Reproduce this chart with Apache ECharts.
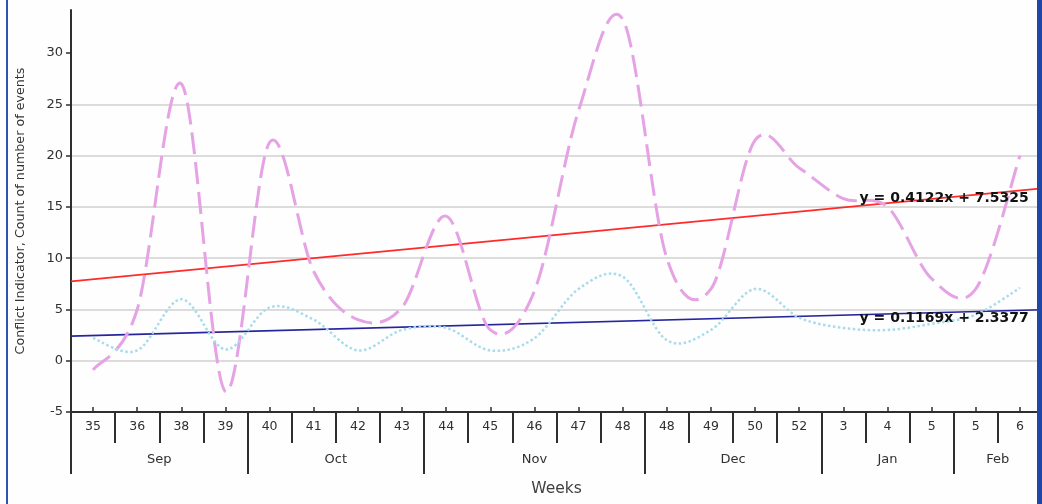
<!DOCTYPE html>
<html>
<head>
<meta charset="utf-8">
<script src="https://cdn.jsdelivr.net/npm/echarts@6/dist/echarts.min.js"></script>
<style>
  html, body { margin: 0; padding: 0; background: #ffffff; }
  #chart { width: 1042px; height: 504px; }
</style>
</head>
<body>
<div id="chart"></div>
<script>
// Week numbers along the bottom, grouped by month
const weeks = ['35', '36', '38', '39', '40', '41', '42', '43', '44', '45', '46', '47', '48',
               '48', '49', '50', '52', '3', '4', '5', '5', '6'];
const months = ['Sep', 'Oct', 'Nov', 'Dec', 'Jan', 'Feb'];
const monthSpans = [4, 4, 5, 4, 3, 2];

// Weekly values
const conflictIndicator = [-0.9, 5, 27, -3, 21.3, 8.7, 4, 5.2, 14.1, 3, 6.8,
                           24.4, 33.3, 10, 7, 21.5, 18.8, 15.8, 15, 8, 7, 20];
const eventCount = [2.2, 1, 6, 1.1, 5.2, 4, 1, 3, 3.2, 1, 2.2,
                    7, 8.2, 2, 3, 7, 4.2, 3.2, 3, 3.6, 4.5, 7.1];

// Linear trend lines (x = week position, 1-based)
const trendConflict = { slope: 0.4122, intercept: 7.5325 };
const trendCount = { slope: 0.1169, intercept: 2.3377 };

const yTicks = [-5, 0, 5, 10, 15, 20, 25, 30];

// Month group boundaries and centres in week-slot units
const monthEdges = [0];
monthSpans.forEach(s => monthEdges.push(monthEdges[monthEdges.length - 1] + s));
const monthCentres = monthSpans.map((s, i) => monthEdges[i] + s / 2);
const slotCount = weeks.length;

function trendLine(t) {
  // slot coordinate u spans 0..slotCount; week position = u + 0.5
  return [0, slotCount].map(u => [u, t.slope * (u + 0.5) + t.intercept]);
}
function eqText(t) {
  return 'y = ' + t.slope.toFixed(4) + 'x + ' + t.intercept.toFixed(4);
}

// Smooth curve through the points (cubic Bezier, Catmull-Rom tangents)
function smoothPath(pts) {
  let d = 'M' + pts[0][0] + ',' + pts[0][1];
  for (let i = 0; i < pts.length - 1; i++) {
    const p0 = pts[Math.max(i - 1, 0)];
    const p1 = pts[i];
    const p2 = pts[i + 1];
    const p3 = pts[Math.min(i + 2, pts.length - 1)];
    const c1x = p1[0] + (p2[0] - p0[0]) / 6, c1y = p1[1] + (p2[1] - p0[1]) / 6;
    const c2x = p2[0] - (p3[0] - p1[0]) / 6, c2y = p2[1] - (p3[1] - p1[1]) / 6;
    d += ' C' + c1x + ',' + c1y + ' ' + c2x + ',' + c2y + ' ' + p2[0] + ',' + p2[1];
  }
  return d;
}

function smoothSeries(name, values, lineStyle) {
  return {
    name: name,
    type: 'custom',
    xAxisIndex: 0,
    yAxisIndex: 0,
    data: values.map((v, i) => [i, v]),
    encode: { x: 0, y: 1 },
    z: 3,
    renderItem: function (params, api) {
      if (params.dataIndex !== 0) return null;
      const pts = values.map((v, i) => api.coord([i, v]));
      return {
        type: 'path',
        shape: { pathData: smoothPath(pts) },
        style: Object.assign({ fill: 'none' }, lineStyle)
      };
    }
  };
}

const FONT = 'DejaVu Sans';
const AXIS_COLOR = '#2e2e2e';

const chart = echarts.init(document.getElementById('chart'), null, { renderer: 'canvas' });

chart.setOption({
  animation: false,
  backgroundColor: '#fefefe',
  grid: { left: 71, right: -4, top: 10, bottom: 92, containLabel: false },
  xAxis: [
    {
      type: 'category',
      data: weeks,
      boundaryGap: true,
      position: 'bottom',
      axisLine: { show: true, onZero: false, lineStyle: { color: AXIS_COLOR, width: 2 } },
      axisTick: { show: true, inside: true, alignWithLabel: true, length: 5,
                  lineStyle: { color: AXIS_COLOR, width: 1.5 } },
      axisLabel: { show: true, margin: 8, fontFamily: FONT, fontSize: 12.5, color: '#303030', interval: 0 },
      splitLine: { show: false }
    },
    {
      type: 'category',
      data: weeks,
      boundaryGap: true,
      position: 'bottom',
      axisLine: { show: false, onZero: false },
      axisTick: { show: true, inside: false, length: 31, interval: 0,
                  lineStyle: { color: AXIS_COLOR, width: 2 } },
      axisLabel: { show: false },
      splitLine: { show: false }
    },
    {
      type: 'value',
      min: 0,
      max: slotCount,
      position: 'bottom',
      axisLine: { show: false, onZero: false },
      axisTick: { show: true, length: 62, customValues: monthEdges,
                  lineStyle: { color: AXIS_COLOR, width: 2 } },
      axisLabel: {
        show: true, margin: 41, customValues: monthCentres,
        fontFamily: FONT, fontSize: 13, color: '#303030',
        formatter: v => months[monthCentres.indexOf(v)] || ''
      },
      splitLine: { show: false },
      name: 'Weeks',
      nameLocation: 'middle',
      nameGap: 69,
      nameTextStyle: { fontFamily: FONT, fontSize: 15.5, color: '#404040' }
    }
  ],
  yAxis: {
    type: 'value',
    min: -5,
    max: 34.2,
    interval: 5,
    axisLine: { show: true, onZero: false, lineStyle: { color: AXIS_COLOR, width: 2 } },
    axisTick: { show: true, length: 5, customValues: yTicks,
                lineStyle: { color: AXIS_COLOR, width: 1.5 } },
    axisLabel: { margin: 8, fontFamily: FONT, fontSize: 13, color: '#303030',
                 customValues: yTicks },
    splitLine: { show: true, showMaxLine: false, lineStyle: { color: '#dcdcdc', width: 2 } },
    name: 'Conflict Indicator, Count of number of events',
    nameLocation: 'middle',
    nameGap: 44,
    nameTextStyle: { fontFamily: FONT, fontSize: 12.7, color: '#333333' }
  },
  series: [
    {
      name: 'Trend conflict',
      type: 'line',
      xAxisIndex: 2,
      data: trendLine(trendConflict),
      symbol: 'none',
      lineStyle: { color: '#ff2a2a', width: 1.6 },
      z: 2
    },
    {
      name: 'Trend count',
      type: 'line',
      xAxisIndex: 2,
      data: trendLine(trendCount),
      symbol: 'none',
      lineStyle: { color: '#25259e', width: 1.6 },
      z: 2
    },
    smoothSeries('Conflict Indicator', conflictIndicator,
                 { stroke: '#e5a2e5', lineWidth: 3, lineDash: [22, 8] }),
    smoothSeries('Count of number of events', eventCount,
                 { stroke: '#a8dcec', lineWidth: 2.5, lineDash: [2.5, 2.5] })
  ]
});

// Equation labels sit just under each trend line, near the right edge
const labelSlot = 21.7;
const eqLabels = [trendConflict, trendCount].map(t => {
  const p = chart.convertToPixel({ xAxisIndex: 2, yAxisIndex: 0 },
                                 [labelSlot, t.slope * (labelSlot + 0.5) + t.intercept]);
  return {
    type: 'text',
    x: p[0],
    y: p[1] + 8.5,
    z: 10,
    style: {
      text: eqText(t),
      fontFamily: FONT,
      fontWeight: 'bold',
      fontSize: 14,
      fill: '#111111',
      align: 'right',
      verticalAlign: 'middle'
    }
  };
});

chart.setOption({
  graphic: [
    ...eqLabels,
    { type: 'rect', shape: { x: 6, y: 0, width: 2, height: 504 }, style: { fill: '#2f55b0' }, z: 20 },
    { type: 'rect', shape: { x: 1037, y: 0, width: 5, height: 504 }, style: { fill: '#1f47a6' }, z: 20 }
  ]
});
</script>
</body>
</html>
